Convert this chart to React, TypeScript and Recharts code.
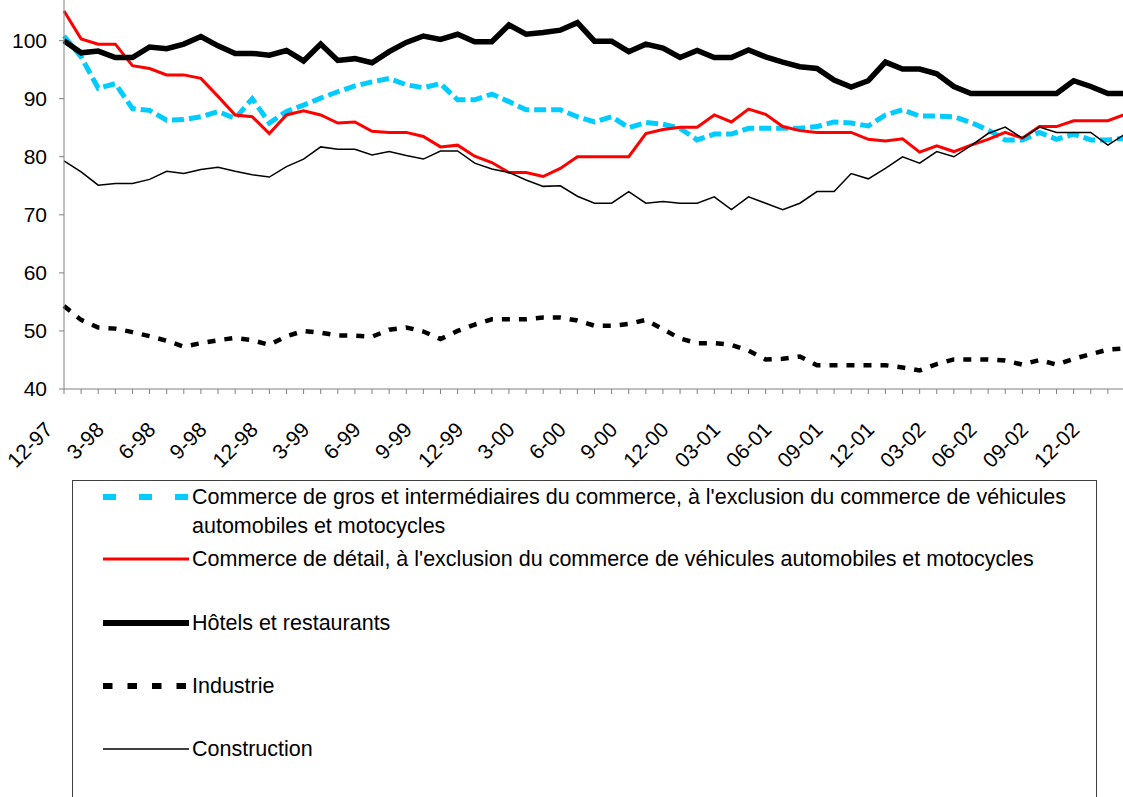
import { LineChart, Line, XAxis, YAxis, Legend } from "recharts";

const FONT = "'Liberation Sans', Arial, sans-serif";

// monthly, Dec 1997 -> Feb 2003
const months = [
  "12-97",
  "1-98", "2-98", "3-98", "4-98", "5-98", "6-98", "7-98", "8-98", "9-98", "10-98", "11-98", "12-98",
  "1-99", "2-99", "3-99", "4-99", "5-99", "6-99", "7-99", "8-99", "9-99", "10-99", "11-99", "12-99",
  "1-00", "2-00", "3-00", "4-00", "5-00", "6-00", "7-00", "8-00", "9-00", "10-00", "11-00", "12-00",
  "01-01", "02-01", "03-01", "04-01", "05-01", "06-01", "07-01", "08-01", "09-01", "10-01", "11-01", "12-01",
  "01-02", "02-02", "03-02", "04-02", "05-02", "06-02", "07-02", "08-02", "09-02", "10-02", "11-02", "12-02",
  "01-03", "02-03",
];

const commerceGros = [
  100.8, 97.2, 91.8, 92.6, 88.3, 88.0, 86.3, 86.4, 86.9, 87.8,
  86.6, 90.0, 85.8, 87.8, 88.9, 90.1, 91.2, 92.2, 92.9, 93.5,
  92.4, 91.9, 92.6, 89.8, 89.8, 90.8, 89.5, 88.1, 88.1, 88.1,
  86.9, 86.0, 86.9, 85.0, 85.9, 85.6, 84.9, 82.9, 83.9, 83.9,
  84.9, 84.9, 84.9, 84.9, 85.2, 86.0, 85.8, 85.3, 87.2, 88.1,
  87.0, 87.0, 86.9, 85.9, 84.6, 82.9, 82.9, 84.2, 83.0, 83.9,
  82.9, 82.9, 83.2,
];

const commerceDetail = [
  105.1, 100.3, 99.4, 99.4, 95.7, 95.2, 94.1, 94.1, 93.5, 90.4,
  87.2, 86.9, 84.0, 87.2, 87.9, 87.2, 85.8, 86.0, 84.4, 84.2,
  84.2, 83.5, 81.7, 82.0, 80.1, 79.0, 77.3, 77.3, 76.6, 78.0,
  80.0, 80.0, 80.0, 80.0, 84.0, 84.7, 85.1, 85.1, 87.2, 86.0,
  88.2, 87.3, 85.2, 84.5, 84.2, 84.2, 84.2, 83.0, 82.7, 83.1,
  80.8, 81.9, 80.9, 82.0, 83.0, 84.2, 83.2, 85.2, 85.2, 86.2,
  86.2, 86.2, 87.3,
];

const hotels = [
  100, 97.9, 98.2, 97.1, 97.1, 98.9, 98.6, 99.4, 100.7, 99.1,
  97.8, 97.8, 97.5, 98.3, 96.5, 99.4, 96.6, 96.9, 96.2, 98.1,
  99.7, 100.8, 100.2, 101.1, 99.8, 99.8, 102.7, 101.1, 101.4, 101.8,
  103.1, 99.9, 99.9, 98.1, 99.4, 98.7, 97.1, 98.3, 97.1, 97.1,
  98.4, 97.2, 96.3, 95.5, 95.2, 93.2, 92.0, 93.1, 96.3, 95.1,
  95.1, 94.3, 92.1, 90.9, 90.9, 90.9, 90.9, 90.9, 90.9, 93.1,
  92.1, 90.9, 90.9,
];

const industrie = [
  54.3, 51.9, 50.6, 50.4, 49.8, 49.1, 48.3, 47.3, 47.9, 48.4,
  48.8, 48.4, 47.6, 49.1, 50.0, 49.7, 49.2, 49.2, 49.0, 50.2,
  50.6, 49.9, 48.6, 50.0, 51.1, 52.0, 52.0, 52.0, 52.3, 52.3,
  51.8, 50.9, 50.9, 51.2, 51.9, 50.3, 48.7, 47.9, 47.9, 47.6,
  46.6, 45.1, 45.2, 45.6, 44.1, 44.1, 44.1, 44.1, 44.1, 43.7,
  43.2, 44.3, 45.1, 45.1, 45.1, 44.9, 44.2, 45.0, 44.2, 45.2,
  46.0, 46.8, 47.0,
];

const construction = [
  79.3, 77.4, 75.1, 75.4, 75.4, 76.1, 77.5, 77.1, 77.8, 78.2,
  77.5, 76.9, 76.5, 78.3, 79.6, 81.7, 81.3, 81.3, 80.3, 80.9,
  80.2, 79.6, 81.0, 81.0, 78.9, 77.9, 77.3, 76.0, 74.9, 75.0,
  73.2, 72.0, 72.0, 74.0, 72.0, 72.3, 72.0, 72.0, 73.1, 70.9,
  73.1, 72.0, 70.9, 72.0, 74.0, 74.0, 77.1, 76.2, 78.0, 80.0,
  78.9, 80.9, 80.0, 81.9, 84.0, 85.1, 83.2, 85.1, 84.2, 84.2,
  84.2, 82.0, 83.9,
];

const yTicks = [40, 50, 60, 70, 80, 90, 100];

const series = [
  {
    key: "gros",
    name: "Commerce de gros et intermédiaires du commerce, à l'exclusion du commerce de véhicules automobiles et motocycles",
    color: "#00CCFF", width: 5, dash: "12 5", legendDash: "13 23", legendWidth: 6, row: 16,
  },
  {
    key: "detail",
    name: "Commerce de détail, à l'exclusion du commerce de véhicules automobiles et motocycles",
    color: "#FF0000", width: 3, dash: undefined, legendDash: undefined, legendWidth: 3, row: 78,
  },
  {
    key: "hotels", name: "Hôtels et restaurants",
    color: "#000000", width: 5.5, dash: undefined, legendDash: undefined, legendWidth: 6, row: 142,
  },
  {
    key: "industrie", name: "Industrie",
    color: "#000000", width: 4.5, dash: "8 9", legendDash: "9.5 15", legendWidth: 6, row: 205,
  },
  {
    key: "construction", name: "Construction",
    color: "#000000", width: 1.5, dash: undefined, legendDash: undefined, legendWidth: 1.5, row: 268,
  },
];

const data = months.map((m, i) => ({
  m,
  gros: commerceGros[i],
  detail: commerceDetail[i],
  hotels: hotels[i],
  industrie: industrie[i],
  construction: construction[i],
}));

const renderMonthTick = (props: any) => {
  const { x, y, payload } = props;
  const idx = months.indexOf(payload.value);
  if (idx % 3 !== 0) return <g />;
  const ax = x - 10;
  const ay = y + 35;
  return (
    <text
      x={ax}
      y={ay}
      textAnchor="end"
      transform={`rotate(-45 ${ax} ${ay})`}
      fontSize={21}
      fontFamily={FONT}
      fill="#000"
    >
      {payload.value}
    </text>
  );
};

const renderLegend = () => (
  <div
    style={{
      position: "relative",
      width: 1025,
      height: 330,
      border: "1px solid #404040",
      boxSizing: "border-box",
      background: "#fff",
      fontFamily: FONT,
      fontSize: 21.5,
      color: "#000",
    }}
  >
    {series.map((s) => (
      <div key={s.key}>
        <svg
          width={86}
          height={12}
          style={{ position: "absolute", left: 30, top: s.row - 6 }}
        >
          <line
            x1={0}
            y1={6}
            x2={86}
            y2={6}
            stroke={s.color}
            strokeWidth={s.legendWidth}
            strokeDasharray={s.legendDash}
          />
        </svg>
        <div
          style={{
            position: "absolute",
            left: 119,
            top: s.row - 14.5,
            width: 890,
            lineHeight: "29px",
          }}
        >
          {s.name}
        </div>
      </div>
    ))}
  </div>
);

export default function App() {
  return (
    <div
      style={{
        position: "absolute",
        left: 0,
        top: 0,
        width: 1123,
        height: 797,
        overflow: "hidden",
        background: "#fff",
      }}
    >
      <LineChart
        width={1131}
        height={797}
        data={data}
        margin={{ top: 0, right: 6, bottom: 348, left: 0 }}
      >
        <XAxis
          dataKey="m"
          interval={0}
          tickSize={5}
          tickMargin={2}
          height={60}
          stroke="#808080"
          tick={renderMonthTick}
        />
        <YAxis
          domain={[40, 107]}
          ticks={yTicks}
          width={64}
          tickSize={5}
          tickMargin={12}
          stroke="#808080"
          tick={{ fill: "#000", fontSize: 21, fontFamily: FONT }}
        />
        {series.map((s) => (
          <Line
            key={s.key}
            type="linear"
            dataKey={s.key}
            name={s.name}
            stroke={s.color}
            strokeWidth={s.width}
            strokeDasharray={s.dash}
            dot={false}
            activeDot={false}
            isAnimationActive={false}
          />
        ))}
        <Legend
          layout="horizontal"
          verticalAlign="middle"
          align="center"
          wrapperStyle={{ left: 72, top: 480, width: 1025, height: 330 }}
          content={renderLegend}
        />
      </LineChart>
    </div>
  );
}
